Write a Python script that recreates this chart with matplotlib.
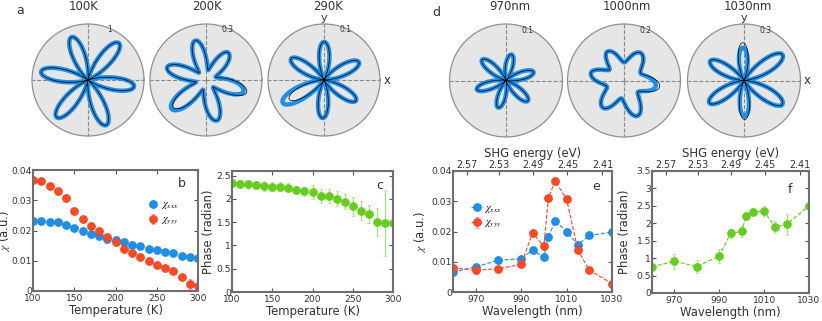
import numpy as np
import matplotlib.pyplot as plt

plt.rcParams['font.family'] = 'DejaVu Sans'
plt.rcParams['mathtext.fontset'] = 'stix'

BLUE = '#1f8ee6'
RED = '#ff4a26'
GREEN = '#66cc1f'
GREEN_ERR = '#a6e07a'
TXT = '#333333'

# ---- temperature dependence (panels b, c)
temps = [100, 110, 120, 130, 140, 150, 160, 170, 180, 190, 200,
         210, 220, 230, 240, 250, 260, 270, 280, 290, 300]
chi_xxx_T = [0.0232, 0.0231, 0.0229, 0.0228, 0.0218, 0.0209, 0.0200, 0.0188, 0.0181, 0.0173, 0.0168,
             0.0161, 0.0152, 0.0148, 0.0139, 0.0135, 0.0129, 0.0124, 0.0117, 0.0114, 0.0110]
chi_yyy_T = [0.0367, 0.0362, 0.0347, 0.0329, 0.0309, 0.0265, 0.0239, 0.0215, 0.0197, 0.0179, 0.0162,
             0.0140, 0.0126, 0.0113, 0.0098, 0.0085, 0.0075, 0.0065, 0.0045, 0.0024, 0.0015]
chi_yyy_T_err = [0.0003] * 19 + [0.0016, 0.0013]
phase_T = [2.34, 2.32, 2.31, 2.30, 2.28, 2.26, 2.26, 2.24, 2.19, 2.16, 2.14,
           2.07, 2.06, 2.00, 1.94, 1.84, 1.75, 1.68, 1.51, 1.49, 1.49]
phase_T_err = [0.08, 0.09, 0.09, 0.09, 0.10, 0.10, 0.10, 0.10, 0.09, 0.10, 0.15,
               0.15, 0.15, 0.16, 0.16, 0.20, 0.20, 0.20, 0.30, 0.71, 0.80]

# ---- wavelength dependence (panels e, f)
wavelengths = [960, 970, 980, 990, 995, 1000, 1002, 1005, 1010, 1015, 1020, 1030]
chi_xxx_wl = [0.0066, 0.0083, 0.0105, 0.0110, 0.0138, 0.0116, 0.0182, 0.0235, 0.0200, 0.0156, 0.0187, 0.0198]
chi_yyy_wl = [0.0080, 0.0072, 0.0077, 0.0091, 0.0195, 0.0151, 0.0311, 0.0367, 0.0307, 0.0138, 0.0072, 0.0028]
chi_yyy_wl_err = [0.0003] * 11 + [0.0015]
phase_wl = [0.75, 0.91, 0.76, 1.06, 1.71, 1.77, 2.21, 2.33, 2.34, 1.89, 1.97, 2.50]
phase_wl_err = [0.22, 0.21, 0.20, 0.21, 0.14, 0.15, 0.10, 0.10, 0.17, 0.18, 0.30, 0.70]

shg_tick_pos = [966.2, 980.3, 995.2, 1010.4, 1025.8]
shg_tick_labels = ['2.57', '2.53', '2.49', '2.45', '2.41']

# ---- polar patterns: petal directions (deg), petal lengths of data and fit, inner radius
titles_T = ['100K', '200K', '290K']
rlabels_T = ['1', '0.3', '0.1']
dirs_T = [[170, 111, 50, -8, -68, -130],
          [162, 105, 51, -17, -75, -140],
          [147, 90, 27, -33, -92, -151]]
data_len_T = [[0.85, 0.82, 0.86, 0.83, 0.87, 0.87],
              [0.73, 0.73, 0.63, 0.70, 0.75, 0.80],
              [0.70, 0.68, 0.70, 0.68, 0.68, 0.84]]
fit_len_T = [[0.85, 0.82, 0.86, 0.83, 0.87, 0.87],
             [0.73, 0.73, 0.63, 0.76, 0.75, 0.76],
             [0.70, 0.68, 0.70, 0.68, 0.68, 0.71]]
base_T = [0.0, 0.18, 0.0]

titles_wl = ['970nm', '1000nm', '1030nm']
rlabels_wl = ['0.1', '0.2', '0.3']
dirs_wl = [[139, 78, 17, -43, -106, -163],
           [167, 120, 59, -10, -69, -128],
           [150, 92, 34, -32, -89, -147]]
data_len_wl = [[0.56, 0.47, 0.51, 0.53, 0.50, 0.54],
               [0.60, 0.59, 0.57, 0.57, 0.67, 0.61],
               [0.69, 0.58, 0.82, 0.80, 0.63, 0.73]]
fit_len_wl = [[0.56, 0.47, 0.51, 0.53, 0.50, 0.54],
              [0.60, 0.59, 0.57, 0.64, 0.67, 0.61],
              [0.69, 0.67, 0.82, 0.80, 0.69, 0.73]]
base_wl = [0.0, 0.32, 0.0]

W, H = 822, 321
fig = plt.figure(figsize=(W / 100, H / 100), dpi=100)


def box(left, top, width, height):
    return [left / W, 1 - (top + height) / H, width / W, height / H]


def petal_radius(phi, dirs, lens, base):
    th = np.radians(np.asarray(dirs, float)) % (2 * np.pi)
    order = np.argsort(th)
    th = th[order]
    L = np.asarray(lens, float)[order]
    th_ext = np.append(th, th[0] + 2 * np.pi)
    L_ext = np.append(L, L[0])
    p = phi % (2 * np.pi)
    p = np.where(p < th[0], p + 2 * np.pi, p)
    k = np.searchsorted(th_ext, p, side='right') - 1
    k = np.clip(k, 0, len(th) - 1)
    t = (p - th_ext[k]) / (th_ext[k + 1] - th_ext[k])
    amp = np.where(t < 0.5, L_ext[k], L_ext[k + 1])
    return base + (amp - base) * np.cos(np.pi * t) ** 2


def draw_polar(rect, dirs, dlen, flen, base, rlabel, xy=False):
    ax = fig.add_axes(rect, projection='polar')
    ax.set_facecolor('#e6e6e6')
    phi = np.linspace(0, 2 * np.pi, 1441)
    ax.plot(phi, petal_radius(phi, dirs, dlen, base), color=BLUE, lw=3.2, solid_capstyle='round')
    ax.plot(phi, petal_radius(phi, dirs, flen, base), color='black', lw=0.5)
    ax.set_ylim(0, 1)
    ax.set_yticks([])
    ax.set_xticks(np.radians([0, 90, 180, 270]))
    ax.set_xticklabels([])
    ax.xaxis.grid(True, ls='--', color='#888888', lw=0.8)
    ax.tick_params(length=0)
    ax.spines['polar'].set_color('#909090')
    ax.spines['polar'].set_linewidth(0.9)
    ax.text(np.radians(67), 0.97, rlabel, fontsize=5.5, color=TXT, ha='center', va='center')
    if xy:
        ax.text(np.radians(90), 1.11, 'y', fontsize=8, color=TXT, ha='center', va='center')
        ax.text(0, 1.12, 'x', fontsize=8.5, color=TXT, ha='center', va='center')
    return ax


for i, cx in enumerate([88, 206, 324]):
    draw_polar(box(cx - 56, 24, 112, 112), dirs_T[i], data_len_T[i], fit_len_T[i],
               base_T[i], rlabels_T[i], xy=(i == 2))
for i, cx in enumerate([506, 624, 744]):
    draw_polar(box(cx - 56.5, 24, 113, 113), dirs_wl[i], data_len_wl[i], fit_len_wl[i],
               base_wl[i], rlabels_wl[i], xy=(i == 2))

for x, t in zip([84, 207, 328], titles_T):
    fig.text(x / W, 1 - 6 / H, t, fontsize=8.4, color=TXT, ha='center', va='center')
for x, t in zip([510, 627, 748], titles_wl):
    fig.text(x / W, 1 - 6 / H, t, fontsize=8.4, color=TXT, ha='center', va='center')
fig.text(20 / W, 1 - 10 / H, 'a', fontsize=9, color=TXT, ha='center', va='center')
fig.text(436 / W, 1 - 12 / H, 'd', fontsize=9, color=TXT, ha='center', va='center')


def style(ax, top=True):
    for s in ax.spines.values():
        s.set_color('#6e6e6e')
        s.set_linewidth(1.5)
    ax.tick_params(direction='in', top=top, right=True, labelsize=6.6,
                   labelcolor=TXT, color='#555555', length=3, width=0.8, pad=2)
    ax.tick_params(axis='y', pad=0.8)
    ax.yaxis.set_major_formatter(lambda v, p: f'{v:g}')


mk = dict(marker='o', ms=5.8, mew=0.4)

# panel b
axb = fig.add_axes(box(33, 170, 165, 121))
axb.plot(temps, chi_xxx_T, ls='none', color=BLUE, mec='#1a7fd0', label=r'$\chi_{xxx}$', **mk)
axb.errorbar(temps, chi_yyy_T, yerr=chi_yyy_T_err, ls='none', color=RED, mec='#e03a1a',
             ecolor='#ff7a60', elinewidth=0.8, capsize=1.5, label=r'$\chi_{yyy}$', **mk)
axb.set_xlim(100, 300)
axb.set_ylim(0, 0.04)
axb.set_xticks([100, 150, 200, 250, 300])
axb.set_yticks([0, 0.01, 0.02, 0.03, 0.04])
style(axb)
axb.set_xlabel('Temperature (K)', fontsize=8.4, color=TXT, labelpad=1)
axb.set_ylabel(r'$\chi$ (a.u.)', fontsize=8.4, color=TXT)
axb.yaxis.set_label_coords(-0.13, 0.5)
axb.legend(loc='upper left', bbox_to_anchor=(0.66, 0.80), frameon=False, fontsize=7.5,
           handletextpad=0.1, labelspacing=0.3, borderpad=0, handlelength=1.2)
axb.text(0.9, 0.89, 'b', transform=axb.transAxes, fontsize=9, color=TXT, ha='center', va='center')

# panel c
axc = fig.add_axes(box(232, 171, 161, 121))
axc.errorbar(temps, phase_T, yerr=phase_T_err, ls='none', color=GREEN, mec=GREEN,
             ecolor=GREEN_ERR, elinewidth=0.9, capsize=1.5, **mk)
axc.set_xlim(100, 300)
axc.set_ylim(0, 2.6)
axc.set_xticks([100, 150, 200, 250, 300])
axc.set_yticks([0, 0.5, 1, 1.5, 2, 2.5])
style(axc)
axc.set_xlabel('Temperature (K)', fontsize=8.4, color=TXT, labelpad=1)
axc.set_ylabel('Phase (radian)', fontsize=8.4, color=TXT)
axc.yaxis.set_label_coords(-0.105, 0.5)
axc.text(0.92, 0.88, 'c', transform=axc.transAxes, fontsize=9, color=TXT, ha='center', va='center')

# panel e
axe = fig.add_axes(box(453, 171, 159, 121))
axe.plot(wavelengths, chi_xxx_wl, ls='--', lw=0.8, color=BLUE, mec='#1a7fd0',
         label=r'$\chi_{xxx}$', **mk)
axe.errorbar(wavelengths, chi_yyy_wl, yerr=chi_yyy_wl_err, ls='--', lw=0.8, color=RED,
             mec='#e03a1a', ecolor='#ff7a60', elinewidth=0.8, capsize=1.5,
             label=r'$\chi_{yyy}$', **mk)
axe.set_xlim(960, 1030)
axe.set_ylim(0, 0.04)
axe.set_xticks([970, 990, 1010, 1030])
axe.set_yticks([0, 0.01, 0.02, 0.03, 0.04])
style(axe, top=False)
axe.set_xlabel('Wavelength (nm)', fontsize=8.4, color=TXT, labelpad=1)
axe.set_ylabel(r'$\chi$ (a.u.)', fontsize=8.4, color=TXT)
axe.yaxis.set_label_coords(-0.155, 0.5)
axe.legend(loc='upper left', bbox_to_anchor=(0.08, 0.78), frameon=False, fontsize=7.5,
           handletextpad=0.1, labelspacing=0.3, borderpad=0, handlelength=1.2)
axe.text(0.9, 0.87, 'e', transform=axe.transAxes, fontsize=9, color=TXT, ha='center', va='center')

# panel f
axf = fig.add_axes(box(652, 171, 157, 122))
axf.errorbar(wavelengths, phase_wl, yerr=phase_wl_err, ls='--', lw=0.8, color=GREEN, mec=GREEN,
             ecolor=GREEN_ERR, elinewidth=0.9, capsize=1.5, **mk)
axf.set_xlim(960, 1030)
axf.set_ylim(0, 3.5)
axf.set_xticks([970, 990, 1010, 1030])
axf.set_yticks([0, 0.5, 1, 1.5, 2, 2.5, 3, 3.5])
style(axf, top=False)
axf.set_xlabel('Wavelength (nm)', fontsize=8.4, color=TXT, labelpad=1)
axf.set_ylabel('Phase (radian)', fontsize=8.4, color=TXT)
axf.yaxis.set_label_coords(-0.134, 0.5)
axf.text(0.88, 0.85, 'f', transform=axf.transAxes, fontsize=9, color=TXT, ha='center', va='center')

for ax in (axe, axf):
    sec = ax.secondary_xaxis('top')
    sec.set_xticks(shg_tick_pos, labels=shg_tick_labels)
    sec.tick_params(direction='in', labelsize=6.9, labelcolor=TXT, color='#555555',
                    length=3, width=0.8, pad=1)
    sec.spines['top'].set_color('#6e6e6e')
    sec.spines['top'].set_linewidth(1.5)
    sec.set_xlabel('SHG energy (eV)', fontsize=8.4, color=TXT, labelpad=2)

fig.savefig('out.png', dpi=100)
